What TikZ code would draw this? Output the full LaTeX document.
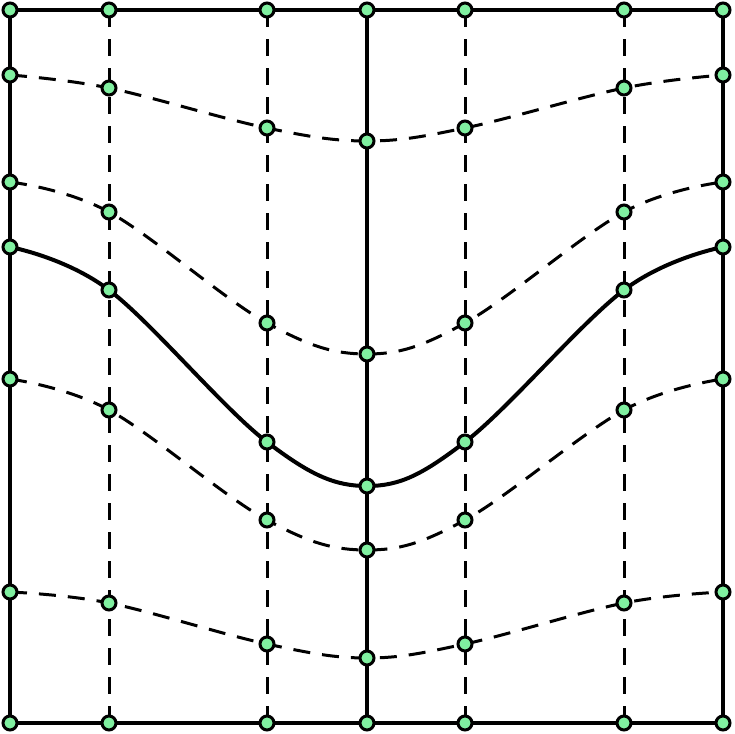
\documentclass[tikz,border=0pt]{standalone}
\usetikzlibrary{backgrounds}
\definecolor{ptgreen}{RGB}{128,240,160}
\tikzset{
    PT/.style ={circle, minimum size=14pt, inner sep=0pt, draw, line width=3pt, fill=ptgreen},
    SL/.style ={line width=4pt},
    DL/.style ={line width=3pt, dash pattern=on 17pt off 12pt},
    SM/.style ={smooth, tension=0.6}}

\begin{document}
\begin{tikzpicture}[x=1pt,y=-1pt]
        \useasboundingbox (0,0) rectangle (734,734);
        % grid points, rows top to bottom
        \foreach \r/\ya/\yb/\yc/\yd in {0/10/10/10/10, 1/75/88/128/141, 2/182/212/323/354,
            3/247/290/442/486, 4/379/410/520/550, 5/592/603/644/658, 6/723/723/723/723}{
            \node[PT] (n\r0) at (10,\ya) {};
            \node[PT] (n\r1) at (109,\yb) {};
            \node[PT] (n\r2) at (267,\yc) {};
            \node[PT] (n\r3) at (367,\yd) {};
            \node[PT] (n\r4) at (465,\yc) {};
            \node[PT] (n\r5) at (624,\yb) {};
            \node[PT] (n\r6) at (723,\ya) {};
        }
        \begin{pgfonlayer}{background}
            % columns
            \draw[SL] (n00.center) -- (n60.center);
            \draw[DL] (n01.center) -- (n61.center);
            \draw[DL] (n02.center) -- (n62.center);
            \draw[SL] (n03.center) -- (n63.center);
            \draw[DL] (n04.center) -- (n64.center);
            \draw[DL] (n05.center) -- (n65.center);
            \draw[SL] (n06.center) -- (n66.center);
            % rows
            \draw[SL] (n00.center) -- (n06.center);
            \draw[DL] plot[SM] coordinates {(n10.center) (n11.center) (n12.center) (n13.center) (n14.center) (n15.center) (n16.center)};
            \draw[DL] plot[SM] coordinates {(n20.center) (n21.center) (n22.center) (n23.center) (n24.center) (n25.center) (n26.center)};
            \draw[SL] plot[SM] coordinates {(n30.center) (n31.center) (n32.center) (n33.center) (n34.center) (n35.center) (n36.center)};
            \draw[DL] plot[SM] coordinates {(n40.center) (n41.center) (n42.center) (n43.center) (n44.center) (n45.center) (n46.center)};
            \draw[DL] plot[SM] coordinates {(n50.center) (n51.center) (n52.center) (n53.center) (n54.center) (n55.center) (n56.center)};
            \draw[SL] (n60.center) -- (n66.center);
        \end{pgfonlayer}
\end{tikzpicture}
\end{document}
